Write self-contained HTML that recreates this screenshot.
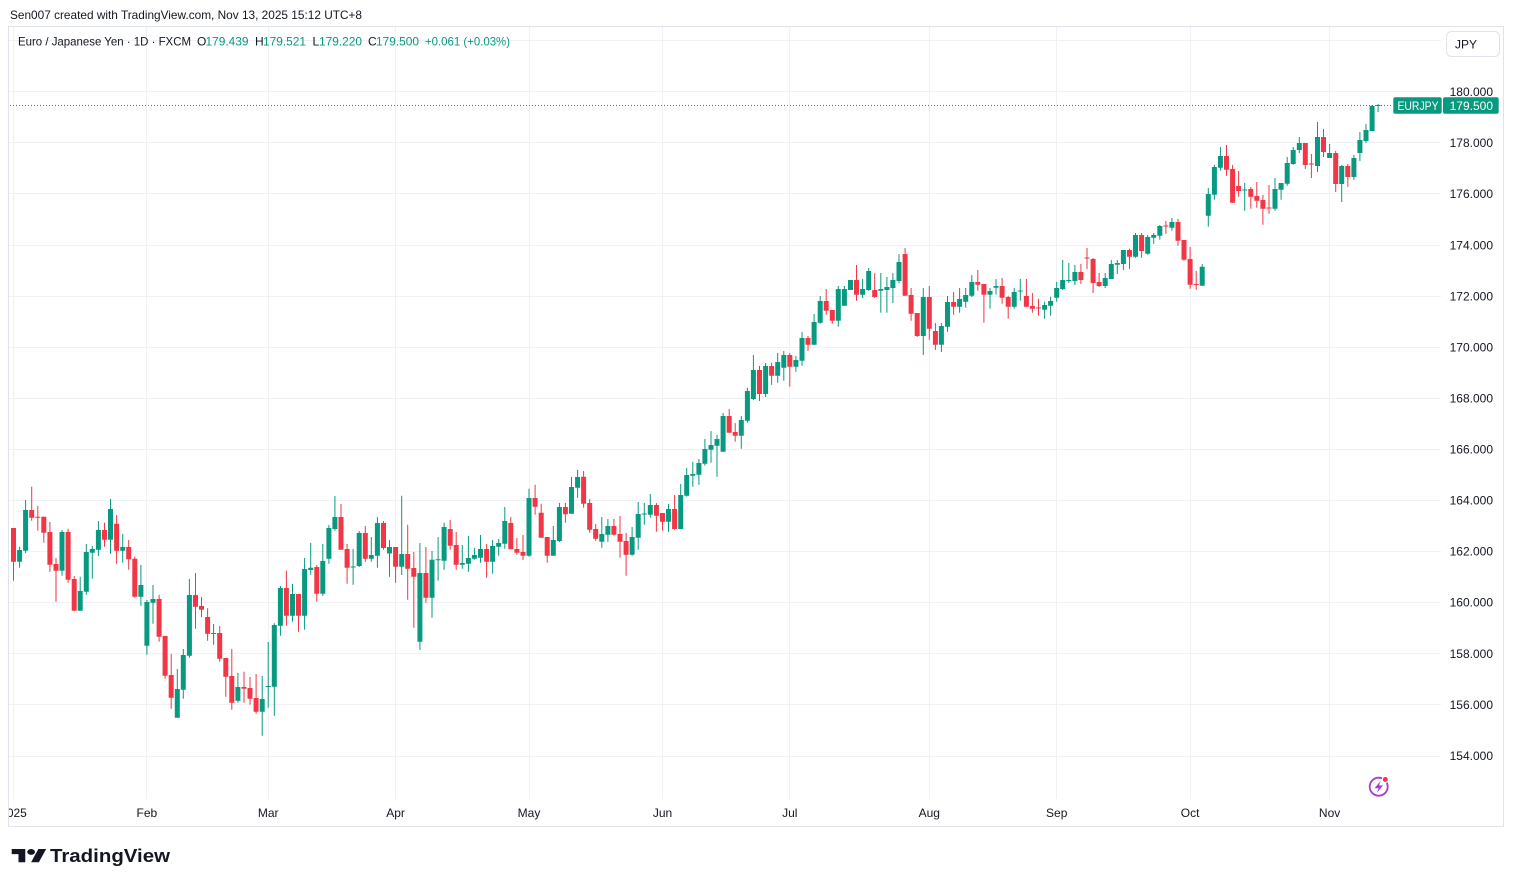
<!DOCTYPE html>
<html><head><meta charset="utf-8"><style>
html,body{margin:0;padding:0;background:#fff;}
svg{display:block;font-family:"Liberation Sans",Arial,sans-serif;}
</style></head><body>
<svg width="1514" height="887" viewBox="0 0 1514 887" xmlns="http://www.w3.org/2000/svg">
<rect width="1514" height="887" fill="#fff"/>
<!-- header -->
<text x="10" y="19" font-size="12" fill="#131722" textLength="352" lengthAdjust="spacingAndGlyphs">Sen007 created with TradingView.com, Nov 13, 2025 15:12 UTC+8</text>
<!-- frame -->
<rect x="8.5" y="26.5" width="1495" height="800" fill="none" stroke="#e0e3eb" stroke-width="1"/>
<!-- grid -->
<g stroke="#f0f1f4" stroke-width="1">
<path d="M9 40.5H1441M9 91.5H1441M9 142.5H1441M9 193.5H1441M9 245.5H1441M9 296.5H1441M9 347.5H1441M9 398.5H1441M9 449.5H1441M9 500.5H1441M9 551.5H1441M9 602.5H1441M9 653.5H1441M9 704.5H1441M9 756.5H1441"/>
<path d="M13.5 27V799M146.5 27V799M268.5 27V799M395.5 27V799M529.5 27V799M662.5 27V799M789.5 27V799M929.5 27V799M1056.5 27V799M1190.5 27V799M1329.5 27V799"/>
</g>
<!-- legend -->
<g font-size="12">
<text x="18" y="45.5" fill="#131722" textLength="173" lengthAdjust="spacingAndGlyphs">Euro / Japanese Yen · 1D · FXCM</text>
<text x="197" y="45.5" fill="#131722">O</text>
<text x="205.5" y="45.5" fill="#089981" textLength="43" lengthAdjust="spacingAndGlyphs">179.439</text>
<text x="255" y="45.5" fill="#131722">H</text>
<text x="263" y="45.5" fill="#089981" textLength="43" lengthAdjust="spacingAndGlyphs">179.521</text>
<text x="312.5" y="45.5" fill="#131722">L</text>
<text x="319" y="45.5" fill="#089981" textLength="43" lengthAdjust="spacingAndGlyphs">179.220</text>
<text x="368" y="45.5" fill="#131722">C</text>
<text x="376" y="45.5" fill="#089981" textLength="43" lengthAdjust="spacingAndGlyphs">179.500</text>
<text x="425" y="45.5" fill="#089981" textLength="85" lengthAdjust="spacingAndGlyphs">+0.061 (+0.03%)</text>
</g>
<!-- JPY button -->
<rect x="1446.5" y="31.5" width="53" height="25" rx="5" fill="#fff" stroke="#e0e3eb"/>
<text x="1455" y="48.5" font-size="12" fill="#131722">JPY</text>
<!-- price axis labels -->
<g font-size="12" fill="#131722" text-anchor="end">
<text x="1493" y="96">180.000</text>
<text x="1493" y="147">178.000</text>
<text x="1493" y="198">176.000</text>
<text x="1493" y="249.5">174.000</text>
<text x="1493" y="300.5">172.000</text>
<text x="1493" y="351.5">170.000</text>
<text x="1493" y="402.5">168.000</text>
<text x="1493" y="453.5">166.000</text>
<text x="1493" y="504.5">164.000</text>
<text x="1493" y="555.5">162.000</text>
<text x="1493" y="606.5">160.000</text>
<text x="1493" y="658">158.000</text>
<text x="1493" y="709">156.000</text>
<text x="1493" y="760">154.000</text>
</g>
<!-- time axis labels -->
<clipPath id="tc"><rect x="9" y="800" width="1494" height="26"/></clipPath>
<g font-size="12" fill="#131722" text-anchor="middle" clip-path="url(#tc)">
<text x="13.5" y="817">2025</text>
<text x="146.9" y="817">Feb</text>
<text x="268.2" y="817">Mar</text>
<text x="395.6" y="817">Apr</text>
<text x="529" y="817">May</text>
<text x="662.5" y="817">Jun</text>
<text x="789.8" y="817">Jul</text>
<text x="929.3" y="817">Aug</text>
<text x="1056.7" y="817">Sep</text>
<text x="1190.1" y="817">Oct</text>
<text x="1329.6" y="817">Nov</text>
</g>
<!-- dotted last price line -->
<path d="M10 105.5H1392" stroke="#089981" stroke-width="1" stroke-dasharray="1 2"/>
<!-- candles green wicks -->
<path fill="none" stroke="#089981" stroke-width="1" d="M19.6 546.7V567.7M25.6 500V553.3M62 530V575.7M80.2 576.7V610.7M86.3 544V595M92.3 546V578.7M98.4 521V556M110.5 499V553.7M122.7 534V562.7M140.9 565V605.7M146.9 600V654.7M153 585V623.7M177.3 669V717.7M183.3 649V698.7M189.4 579V657.7M213.6 624V644.7M237.9 673V702.7M262.2 676V735.7M268.2 642V707.7M274.3 623.3V715.7M280.4 586V635.7M292.5 584V621.7M304.6 558V629.7M310.7 542.7V574.7M322.8 544V595.7M328.9 525V563.7M334.9 496V530.7M353.1 549V584.7M359.2 531V567M371.3 537V561.7M377.4 517V567.7M389.5 540V576.7M401.7 495.7V575M419.9 543V649.7M432 551V617.7M438.1 537V580.7M444.1 522.7V569.7M462.3 545V568.7M468.4 536V571.7M474.4 548V559.7M480.5 535V562.7M492.6 540V573.7M498.7 539V555.7M504.8 507V548.7M529 488.7V556.7M553.3 526V555.7M559.4 503V542M571.5 477V513.7M577.6 469.7V497.7M601.8 517V547.7M607.9 519V541.7M632.1 527V555.7M638.2 502V549.7M644.3 503V524.7M650.3 494V517.7M668.5 504V531.7M680.7 484V529M686.7 468V496.7M692.8 462V486.7M698.9 459V484.7M704.9 439V465.7M711 431V462.7M717 435V476.7M723.1 413V451.7M741.3 416V448.7M747.4 387.7V422.7M753.4 355V400M765.6 363V397M777.7 353V382.7M783.8 351V380.7M795.9 356V371.7M802 332V365.7M814.1 314V344.7M820.2 296V323.7M838.3 286V326.7M844.4 286V305.7M850.5 280V290M862.6 279V298M868.7 268V291M880.8 273V312.7M886.9 277V312.7M892.9 273V303M899 254.3V283.3M923.3 288V355M941.4 323V352M947.5 296V331.7M959.6 288V312.7M965.7 288V307.7M971.8 275V297M990 288V308.7M996 279V294.7M1014.2 288V308.7M1020.3 279V300.7M1044.6 301.7V318.7M1050.6 296.7V315.7M1056.7 282V301.7M1062.7 260V290M1068.8 263V283M1074.9 265V285M1105.2 273V288M1111.3 260V279M1117.3 260V274M1123.4 250V270M1135.5 233V257.7M1147.7 235V254.7M1153.7 233V243.7M1159.8 225V239.7M1171.9 218V230.7M1202.2 264V285.7M1208.3 188V226.7M1214.4 164.7V199.7M1220.4 147V170.7M1244.7 183V210.7M1275 178V210.7M1281.1 183V199.7M1287.2 157V185.7M1293.2 147V165M1299.3 137V153M1317.5 122V172M1329.6 144V158M1341.7 165V202M1353.9 155V180M1359.9 132V161M1366 124V143M1372.1 105V131M1378.1 104V112"/>
<!-- green bodies -->
<path fill="none" stroke="#089981" stroke-width="5" d="M19.6 550V561.7M25.6 510V550.7M62 532V570.7M80.2 591V610.7M86.3 552V591.7M92.3 549V552.7M98.4 530V549.7M110.5 509V539.7M122.7 547V550.7M140.9 585V596.7M146.9 602V645.7M153 599V602.7M177.3 689V717.7M183.3 655V689.7M189.4 595V655.7M213.6 633V634M237.9 687V700.7M262.2 699V711.7M268.2 686V687M274.3 625V686.7M280.4 588V625.7M292.5 594V615.7M304.6 569V615.7M310.7 567.7V570M322.8 561V593.7M328.9 528V558.7M334.9 517V529M353.1 566.5V567.5M359.2 533V566M371.3 555V558.7M377.4 523V555.7M389.5 547V553.5M401.7 554V566.7M419.9 573V641.7M432 559.7V597.7M438.1 559.2V560.2M444.1 527V560.7M462.3 563V564.7M468.4 558V563.7M474.4 555V558.7M480.5 549V557.7M492.6 546V561.7M498.7 543V546.7M504.8 521V543.7M529 498V555.7M553.3 540V555.7M559.4 507V541M571.5 487V513.7M577.6 477V487.7M601.8 534V541.7M607.9 526V534.7M632.1 537V554.7M638.2 514V537.7M644.3 513.5V514.5M650.3 505V514.7M668.5 509V521.7M680.7 495V529M686.7 475V495.7M692.8 474V475.7M698.9 463V474.7M704.9 449V463.7M711 445V449.7M717 439V445.7M723.1 416V451.7M741.3 420V435.7M747.4 391V420.7M753.4 370V399M765.6 366V394M777.7 362V375.7M783.8 355V367.7M795.9 360V366.7M802 338V360.7M814.1 322V344.7M820.2 301V322.7M838.3 289V320.7M844.4 289V305.7M850.5 280V290M862.6 289V294.7M868.7 271V290M880.8 289V290.7M886.9 287V290M892.9 280V288M899 262V281M923.3 297V336M941.4 326V344.7M947.5 302V326.7M959.6 299V306.7M965.7 295V301.7M971.8 282V295.7M990 291V294.7M996 286V287.7M1014.2 292V306.7M1020.3 290.5V291.5M1044.6 305V309.7M1050.6 301V305.7M1056.7 288V297.7M1062.7 280V289M1068.8 280V281M1074.9 272V281M1105.2 278V286M1111.3 264V279M1117.3 263V264.7M1123.4 250V264M1135.5 235V256.7M1147.7 237V253.7M1153.7 235V237.7M1159.8 226V235.7M1171.9 222V227.7M1202.2 266.7V285.7M1208.3 194V215.7M1214.4 167V194.7M1220.4 156V167.7M1244.7 189.5V190.5M1275 189V208.7M1281.1 183V189.7M1287.2 163V183.7M1293.2 150V164M1299.3 143V150M1317.5 137V166M1329.6 153V158M1341.7 166V184M1353.9 158V177M1359.9 140V153M1366 130V141M1372.1 106V131M1378.1 105V106"/>
<!-- red wicks -->
<path fill="none" stroke="#f23645" stroke-width="1" d="M13.5 528V580.7M31.7 486.7V520.7M37.8 506V530.7M43.8 516.7V542.7M49.9 522V571.7M56 558V601.7M68.1 528.7V582.7M74.2 576V610.7M104.5 522.7V546.7M116.6 515V563.7M128.7 540V569.7M134.8 556.7V597.7M159.1 595V641.7M165.1 636V678.7M171.2 654V708.7M195.5 573V628.7M201.5 597V617.3M207.6 608.3V640.7M219.7 626V661.7M225.8 658V696.7M231.8 649V709.7M244 671.7V702.7M250 677V704.7M256.1 674V713.7M286.4 570.7V625.7M298.5 594V631.7M316.8 565V601.7M341 504V549.7M347.1 544V583.7M365.3 526V561.7M383.5 521V549.7M395.6 547V582.7M407.7 524.7V599.7M413.8 552V627.7M425.9 547V602.7M450.2 520V549.7M456.2 532V569.7M486.6 544V577.7M510.8 517V549.3M516.9 538V554.7M523 535V560M535.1 484.7V514.7M541.2 503.7V537.7M547.2 537V562.7M565.4 503V522.7M583.6 471V507.7M589.7 499V532.7M595.7 524V540.7M613.9 519V535.7M620 516V557.7M626.1 533V575.7M656.4 503V531.7M662.5 513V530.7M674.6 495V529.7M729.2 409V432.7M735.2 423V441.7M759.5 366V401M771.6 362.7V384.7M789.8 353V386.7M808 336V350.7M826.2 289V314.7M832.3 310V323.7M856.5 265V300.7M874.7 273.3V298M905.1 248V295.7M911.1 288V320.7M917.2 313V337M929.3 286V339.7M935.4 323V350M953.6 292V314.7M977.8 270V290.7M983.9 284V322.7M1002.1 278V303.7M1008.2 295.7V318.7M1026.4 279V306.7M1032.4 293V312.7M1038.5 298.7V315.7M1080.9 264V284M1087 248V269M1093.1 258V293M1099.1 273V287M1129.5 248.7V269M1141.6 233V257.7M1165.9 221V233.7M1178 219V245.7M1184 240V260.7M1190.1 247V288.7M1196.2 271V289.7M1226.5 145V175.7M1232.6 165V202.7M1238.6 171V196.7M1250.8 187V208.7M1256.8 182V207.7M1262.9 195V224.7M1269 185V213.7M1305.3 143V169M1311.4 154V178M1323.5 129V157M1335.7 151V192M1347.8 164V187"/>
<!-- red bodies -->
<path fill="none" stroke="#f23645" stroke-width="5" d="M13.5 528V561.7M31.7 510V517.7M37.8 516.7V517.7M43.8 516.7V532.7M49.9 532V564.7M56 564V570.7M68.1 532V579.7M74.2 579V610.7M104.5 530V539.7M116.6 523.7V550.7M128.7 547V559.3M134.8 558.7V596.7M159.1 599V636.7M165.1 636V675.7M171.2 675V697.7M195.5 595V606.7M201.5 606V609.7M207.6 617V633.7M219.7 633V658.7M225.8 658V676.7M231.8 676V702.7M244 687V688.7M250 688V698.7M256.1 698V711.7M286.4 588V615.7M298.5 594V615.7M316.8 567V593.7M341 517V549.7M347.1 549V567.7M365.3 533V558.7M383.5 523V548M395.6 547V566.7M407.7 554V568.7M413.8 568V576.7M425.9 573V597.7M450.2 529V545.7M456.2 545V564.7M486.6 549V561.7M510.8 523V549.3M516.9 549V552.7M523 552V555.7M535.1 498V506.7M541.2 512.7V537.7M547.2 537V555.7M565.4 507V514.3M583.6 476.7V503.7M589.7 503V529.7M595.7 529V538.7M613.9 526V534.7M620 534V541.7M626.1 541V554.7M656.4 505V515.7M662.5 513V521.7M674.6 509V529M729.2 416V432.7M735.2 432V435.7M759.5 370V394M771.6 366V375.7M789.8 355V366.7M808 338V344.7M826.2 301V310.7M832.3 310V320.7M856.5 280V294.7M874.7 290V297M905.1 254V295.7M911.1 295V313.7M917.2 313V336M929.3 297V328.7M935.4 331V344.7M953.6 302V306.7M977.8 282V284.7M983.9 284V294.7M1002.1 286V297.7M1008.2 297V306.7M1026.4 296V306.7M1032.4 306V308.7M1038.5 307.5V308.5M1080.9 272V280M1087 257.5V258.5M1093.1 259V283M1099.1 282V286M1129.5 250V256.7M1141.6 235V251M1165.9 225.5V226.5M1178 222V240.7M1184 240V259.7M1190.1 259V284.7M1196.2 284V285M1226.5 156V169.7M1232.6 169V202.7M1238.6 186V191M1250.8 189V196.7M1256.8 196V200.7M1262.9 200V208.7M1269 207.5V208.5M1305.3 143V165M1311.4 163.5V164.5M1323.5 137V152M1335.7 153V184M1347.8 166V177"/>
<!-- last price tags -->
<rect x="1393.3" y="97.3" width="48.4" height="16.4" rx="2" fill="#089981"/>
<text x="1397.5" y="110" font-size="12" fill="#fff" textLength="41" lengthAdjust="spacingAndGlyphs">EURJPY</text>
<rect x="1443" y="97.3" width="55.7" height="16.4" rx="2" fill="#089981"/>
<text x="1493" y="110" font-size="12" fill="#fff" text-anchor="end">179.500</text>
<!-- lightning icon -->
<circle cx="1378.7" cy="786.7" r="9" fill="none" stroke="#a23ed6" stroke-width="1.8"/>
<path d="M1380.6 780.8L1374.6 788.2H1378.6L1376.8 793L1383 785.4H1379Z" fill="#a23ed6"/>
<circle cx="1385.3" cy="779.5" r="3.6" fill="#fff"/>
<circle cx="1385.3" cy="779.5" r="2.5" fill="#f23645"/>
<!-- TradingView logo -->
<g transform="translate(11.7 846) scale(0.97 0.74)" fill="#131722">
<path d="M14 22H7V11H0V4h14v18zM28 22h-8l7.5-18h8L28 22z"/>
<circle cx="20" cy="8" r="4"/>
</g>
<text x="50" y="862" font-size="18" font-weight="bold" fill="#131722" textLength="120" lengthAdjust="spacingAndGlyphs">TradingView</text>
</svg>
</body></html>
